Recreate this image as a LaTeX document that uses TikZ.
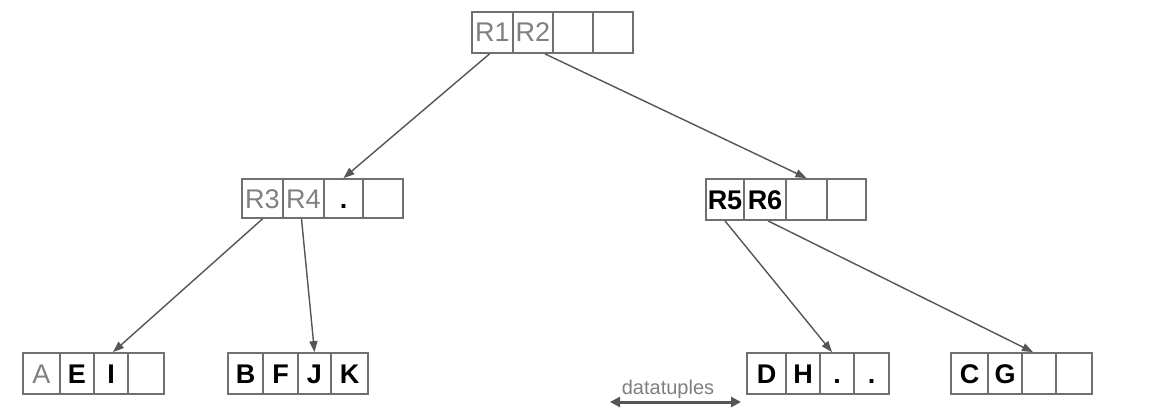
\documentclass[tikz,border=0pt]{standalone}
\usepackage{fontspec}
\setmainfont{Liberation Sans}
\usetikzlibrary{arrows.meta}
\definecolor{boxgray}{HTML}{707070}
\definecolor{linegray}{HTML}{555555}
\definecolor{txtgray}{HTML}{808080}
\tikzset{
  cell/.style={draw=boxgray, line width=1.8pt, inner sep=0pt, minimum height=41pt, fill=white,
    text height=19pt, text depth=0pt, font=\fontsize{27}{29}\selectfont},
  lite/.style={text=txtgray},
  dark/.style={text=black, font=\fontsize{27}{29}\selectfont\bfseries},
  link/.style={draw=linegray, line width=1.4pt, -{Triangle[length=11pt,width=8pt]}},
}
\begin{document}
\begin{tikzpicture}[x=1pt,y=-1pt]
\useasboundingbox[fill=white] (0,0) rectangle (1162,420);
% top
\node[cell,lite,minimum width=41pt] (t1) at (492.5,32.5) {R1};
\node[cell,lite,minimum width=40pt] (t2) at (533,32.5) {R2};
\node[cell,minimum width=40pt] (t3) at (573,32.5) {};
\node[cell,minimum width=40pt] (t4) at (613,32.5) {};
% middle left
\node[cell,lite,minimum width=41pt,minimum height=39pt] (ml1) at (262.5,198.5) {R3};
\node[cell,lite,minimum width=41pt,minimum height=39pt] (ml2) at (303.5,198.5) {R4};
\node[cell,dark,minimum width=39pt,minimum height=39pt] (ml3) at (343.5,198.5) {.};
\node[cell,minimum width=40pt,minimum height=39pt] (ml4) at (383,198.5) {};
% middle right
\node[cell,dark,minimum width=38pt] (mr1) at (725,199.5) {R5};
\node[cell,dark,minimum width=42pt] (mr2) at (765,199.5) {R6};
\node[cell,minimum width=41pt] (mr3) at (806.5,199.5) {};
\node[cell,minimum width=39pt] (mr4) at (846.5,199.5) {};
% bottom A E I
\node[cell,lite,minimum width=37pt] (a1) at (41.5,373.5) {A};
\node[cell,dark,minimum width=34pt] (a2) at (77,373.5) {E};
\node[cell,dark,minimum width=34pt] (a3) at (111,373.5) {I};
\node[cell,minimum width=36pt] (a4) at (146,373.5) {};
% B F J K
\node[cell,dark,minimum width=35pt] (b1) at (245.5,373.5) {B};
\node[cell,dark,minimum width=35pt] (b2) at (280.5,373.5) {F};
\node[cell,dark,minimum width=33pt] (b3) at (314.5,373.5) {J};
\node[cell,dark,minimum width=37pt] (b4) at (349.5,373.5) {K};
% D H . .
\node[cell,dark,minimum width=39pt] (d1) at (766.5,373.5) {D};
\node[cell,dark,minimum width=34pt] (d2) at (803,373.5) {H};
\node[cell,dark,minimum width=34pt] (d3) at (837,373.5) {.};
\node[cell,dark,minimum width=35pt] (d4) at (871.5,373.5) {.};
% C G
\node[cell,dark,minimum width=37pt] (c1) at (969.5,373.5) {C};
\node[cell,dark,minimum width=34pt] (c2) at (1005,373.5) {G};
\node[cell,minimum width=34pt] (c3) at (1039,373.5) {};
\node[cell,minimum width=36pt] (c4) at (1074,373.5) {};
% connectors
\draw[link] ([xshift=-3pt]t1.south) -- (ml3.north);
\draw[link] ([xshift=12pt]t2.south) -- (mr3.north);
\draw[link] (ml1.south) -- ([xshift=2pt]a3.north);
\draw[link] ([xshift=-2pt]ml2.south) -- (b3.north);
\draw[link] (mr1.south) -- ([xshift=-5pt]d3.north);
\draw[link] ([xshift=3pt]mr2.south) -- ([xshift=-6pt]c3.north);
% datatuples
\node[text=txtgray, font=\fontsize{20}{22}\selectfont, inner sep=0pt] (dt) at (668,389) {datatuples};
\coordinate (dl) at (610,402);
\coordinate (dr) at (741,402);
\draw[draw=linegray, line width=3pt, {Triangle[length=10pt,width=10pt]}-{Triangle[length=10pt,width=10pt]}] (dl) -- (dr);
\end{tikzpicture}
\end{document}
